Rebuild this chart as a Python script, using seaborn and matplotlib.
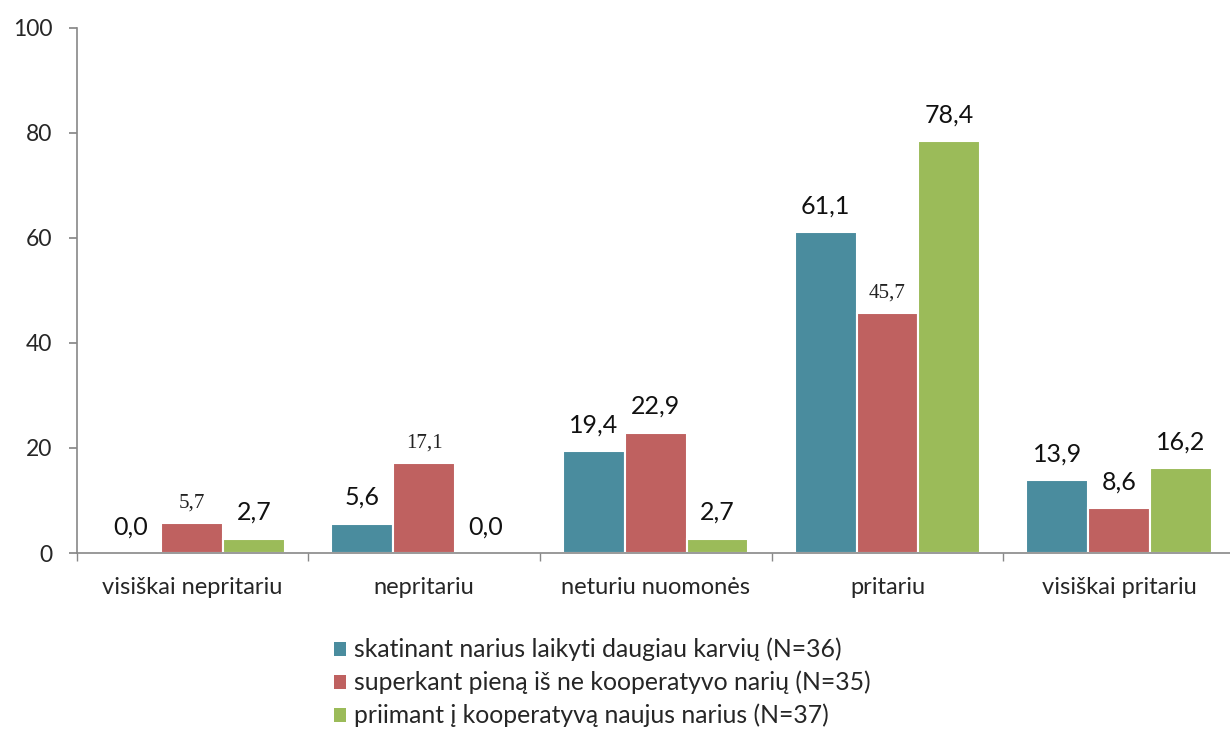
import matplotlib
matplotlib.use("Agg")
import matplotlib.pyplot as plt
import seaborn as sns
import pandas as pd
from matplotlib.patches import Patch

categories = ["visiškai nepritariu", "nepritariu", "neturiu nuomonės", "pritariu", "visiškai pritariu"]
series_names = [
    "skatinant narius laikyti daugiau karvių (N=36)",
    "superkant pieną iš ne kooperatyvo narių (N=35)",
    "priimant į kooperatyvą naujus narius (N=37)",
]
s1 = [0.0, 5.6, 19.4, 61.1, 13.9]
s2 = [5.7, 17.1, 22.9, 45.7, 8.6]
s3 = [2.7, 0.0, 2.7, 78.4, 16.2]
serif_labels_s2 = [True, True, False, True, False]
colors = ["#4A8C9E", "#BF6160", "#9BBB59"]
yticks = [0, 20, 40, 60, 80, 100]

rows = []
for name, vals in zip(series_names, [s1, s2, s3]):
    for c, v in zip(categories, vals):
        rows.append({"cat": c, "series": name, "val": v})
df = pd.DataFrame(rows)

sns.set_theme(style="white")
plt.rcParams["font.family"] = ["Lato", "DejaVu Sans"]

fig = plt.figure(figsize=(12.3, 7.29), dpi=100)
ax = fig.add_axes([76.5 / 1230, 1 - 553 / 729, 1158.5 / 1230, 525 / 729])

sns.barplot(data=df, x="cat", y="val", hue="series", order=categories,
            hue_order=series_names, palette=colors, width=0.8,
            edgecolor="white", linewidth=1.5, saturation=1, ax=ax, legend=False)

ax.set_ylim(0, 100)
ax.set_xlim(-0.5, 4.5)
ax.set_yticks(yticks)
ax.set_yticklabels([str(t) for t in yticks], fontsize=16.5)
ax.set_xlabel("")
ax.set_ylabel("")
ax.tick_params(axis="y", length=6, color="#888888", direction="out", pad=11.5, left=True)
ax.set_xticks(range(len(categories)))
ax.set_xticklabels(categories, fontsize=17)
ax.tick_params(axis="x", which="major", length=0, pad=17)
ax.set_xticks([i - 0.5 for i in range(len(categories) + 1)], minor=True)
ax.tick_params(axis="x", which="minor", length=6, color="#888888", direction="out", bottom=True)
for sp in ["top", "right"]:
    ax.spines[sp].set_visible(False)
for sp in ["left", "bottom"]:
    ax.spines[sp].set_color("#888888")
    ax.spines[sp].set_linewidth(1.2)

bw = 0.8 / 3
for si, vals in enumerate([s1, s2, s3]):
    for ci, v in enumerate(vals):
        x = ci - 0.8 / 2 + bw * (si + 0.5)
        lab = f"{v:.1f}".replace(".", ",")
        if si == 1 and serif_labels_s2[ci]:
            ax.annotate(lab, (x, v), xytext=(0, 11), textcoords="offset points",
                        ha="center", va="baseline", fontsize=15,
                        family=["Liberation Serif", "DejaVu Serif"], color="#222222")
        else:
            ax.annotate(lab, (x, v), xytext=(0, 13.5), textcoords="offset points",
                        ha="center", va="baseline", fontsize=18, color="#111111")

handles = [Patch(facecolor=c, edgecolor="none") for c in colors]
fig.legend(handles, series_names, loc="upper left", bbox_to_anchor=(0.2715, 0.125),
           frameon=False, fontsize=17.8, handlelength=0.5, handleheight=0.5,
           handletextpad=0.3, labelspacing=0.38, borderpad=0, borderaxespad=0)

fig.savefig("out.png", dpi=100)
